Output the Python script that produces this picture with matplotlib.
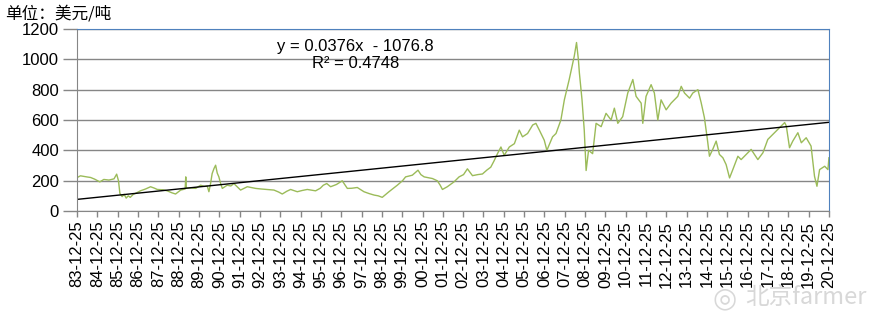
import numpy as np
import pandas as pd
import matplotlib
matplotlib.use('Agg')
import matplotlib.pyplot as plt
import matplotlib.dates as mdates

plt.rcParams['font.family'] = ['Liberation Sans', 'Noto Sans CJK SC', 'DejaVu Sans']

# Price readings (decimal year, USD/ton)
years = [
    1983.98, 1984.15, 1984.32, 1984.5, 1984.65, 1984.85, 1985.1, 1985.3, 1985.55, 1985.8,
    1985.93, 1986.02, 1986.09, 1986.2, 1986.3, 1986.4, 1986.5, 1986.6, 1986.75, 1986.86,
    1987.1, 1987.35, 1987.6, 1987.8, 1987.93, 1988.2, 1988.42, 1988.65, 1988.83, 1989.08,
    1989.3, 1989.33, 1989.36, 1989.6, 1989.82, 1990.06, 1990.25, 1990.39, 1990.47, 1990.55,
    1990.63, 1990.72, 1990.8, 1990.88, 1990.96, 1991.05, 1991.13, 1991.37, 1991.55, 1991.7,
    1992.03, 1992.36, 1992.55, 1992.77, 1993.05, 1993.34, 1993.67, 1993.9, 1994.08, 1994.3,
    1994.49, 1994.82, 1995.05, 1995.31, 1995.5, 1995.72, 1995.95, 1996.1, 1996.27, 1996.46,
    1996.75, 1997.03, 1997.28, 1997.5, 1997.77, 1998.1, 1998.35, 1998.6, 1998.8, 1999.0,
    1999.33, 1999.55, 1999.74, 2000.0, 2000.15, 2000.48, 2000.76, 2000.9, 2001.06, 2001.47,
    2001.71, 2001.85, 2001.96, 2002.2, 2002.53, 2002.78, 2003.0, 2003.19, 2003.44, 2003.7,
    2003.93, 2004.15, 2004.34, 2004.5, 2004.67, 2004.84, 2005.0, 2005.25, 2005.5, 2005.74,
    2005.9, 2006.15, 2006.4, 2006.56, 2006.73, 2006.97, 2007.1, 2007.38, 2007.55, 2007.79,
    2007.96, 2008.2, 2008.45, 2008.56, 2008.65, 2008.7, 2008.83, 2008.94, 2009.03, 2009.15,
    2009.35, 2009.52, 2009.77, 2010.01, 2010.26, 2010.42, 2010.59, 2010.83, 2011.08, 2011.33,
    2011.49, 2011.74, 2011.82, 2011.98, 2012.23, 2012.39, 2012.56, 2012.72, 2012.97, 2013.21,
    2013.54, 2013.71, 2013.87, 2014.12, 2014.28, 2014.53, 2014.69, 2014.85, 2015.0, 2015.1,
    2015.26, 2015.43, 2015.59, 2015.76, 2015.92, 2016.09, 2016.25, 2016.5, 2016.66, 2016.99,
    2017.15, 2017.48, 2017.73, 2017.97, 2018.3, 2018.55, 2018.8, 2018.88, 2019.04, 2019.2,
    2019.45, 2019.62, 2019.86, 2020.1, 2020.27, 2020.39, 2020.52, 2020.77, 2020.93, 2020.98,
]
prices = [
    220, 232, 228, 224, 221, 210, 192, 208, 204, 212,
    243, 200, 116, 95, 110, 85, 100, 90, 110, 116,
    133, 145, 160, 150, 142, 140, 133, 120, 112, 138,
    145, 225, 150, 152, 149, 170, 162, 164, 127, 180,
    247, 280, 302, 250, 225, 180, 149, 170, 165, 181,
    138, 160, 155, 149, 145, 142, 138, 125, 112, 130,
    142, 127, 135, 142, 138, 133, 150, 170, 181, 160,
    175, 199, 149, 150, 155, 127, 115, 105, 100, 90,
    127, 150, 170, 200, 225, 236, 269, 240, 225, 214,
    199, 170, 142, 160, 192, 225, 240, 278, 233, 240,
    244, 270, 289, 330, 378, 422, 367, 422, 444, 533,
    489, 511, 567, 578, 533, 467, 400, 489, 511, 600,
    733, 867, 1022, 1111, 1000, 911, 733, 533, 267, 400,
    378, 578, 556, 644, 600, 678, 578, 622, 778, 867,
    756, 711, 578, 756, 833, 778, 600, 733, 667, 711,
    756, 822, 778, 744, 778, 800, 715, 616, 470, 361,
    406, 461, 373, 351, 306, 218, 273, 361, 339, 384,
    406, 339, 384, 472, 516, 550, 583, 561, 417, 461,
    516, 450, 483, 428, 229, 163, 273, 295, 273, 351,
]

# Excel trendline shown on the chart
slope = 0.0376
intercept = -1076.8
tick_years = list(range(1983, 2021))


def to_date(y):
    base = pd.Timestamp(int(y), 1, 1)
    return base + pd.Timedelta(days=(y - int(y)) * 365.25)


dates = [to_date(y) for y in years]
x = mdates.date2num(dates)
tick_dates = [pd.Timestamp(y, 12, 25) for y in tick_years]
tick_x = mdates.date2num(tick_dates)
tick_labels = [d.strftime('%y-12-25') for d in tick_dates]

# Excel serial day numbers for the trendline
excel0 = pd.Timestamp(1899, 12, 30)
trend_x = np.array([tick_x[0], tick_x[-1]])
serial = np.array([(tick_dates[0] - excel0).days, (tick_dates[-1] - excel0).days])
trend_y = slope * serial + intercept

fig = plt.figure(figsize=(8.7, 3.16), dpi=100)
ax = fig.add_axes([77 / 870, 105 / 316, 752 / 870, 182 / 316])

grid_c = '#868686'
ax.set_ylim(0, 1200)
ax.set_yticks(range(0, 1201, 200))
ax.set_xlim(tick_x[0], tick_x[-1])
ax.set_xticks(tick_x)
ax.set_xticklabels(tick_labels, rotation=90, fontsize=12)
ax.tick_params(axis='y', labelsize=12, length=10, color=grid_c, width=1, pad=3)
ax.tick_params(axis='x', length=4, color=grid_c, width=1, pad=3)
ax.grid(axis='y', color=grid_c, linewidth=1)
ax.set_axisbelow(True)

ax.plot(x, prices, color='#9BBB59', linewidth=1)
ax.plot(trend_x, trend_y, color='black', linewidth=1)

for s in ['left', 'bottom']:
    ax.spines[s].set_color(grid_c)
for s in ['top', 'right']:
    ax.spines[s].set_color('#4F81BD')

ax.text(0.37, 0.905, 'y = 0.0376x  - 1076.8', transform=ax.transAxes,
        ha='center', va='center', fontsize=12)
ax.text(0.37, 0.81, 'R² = 0.4748', transform=ax.transAxes,
        ha='center', va='center', fontsize=12)

fig.text(5 / 870, 1 - 14 / 316, '单位：美元/吨', fontsize=12, va='center', ha='left',
         family=['Noto Sans CJK SC', 'DejaVu Sans'])
fig.text(745 / 870, 1 - 298 / 316, '北京farmer', fontsize=17, va='center', ha='left',
         color='#d8d8d8', family=['Noto Sans CJK SC', 'DejaVu Sans'])
fig.text(712 / 870, 1 - 298 / 316, '◎', fontsize=20, va='center', ha='left',
         color='#d8d8d8', family=['DejaVu Sans'])

fig.savefig('out.png', dpi=100)
